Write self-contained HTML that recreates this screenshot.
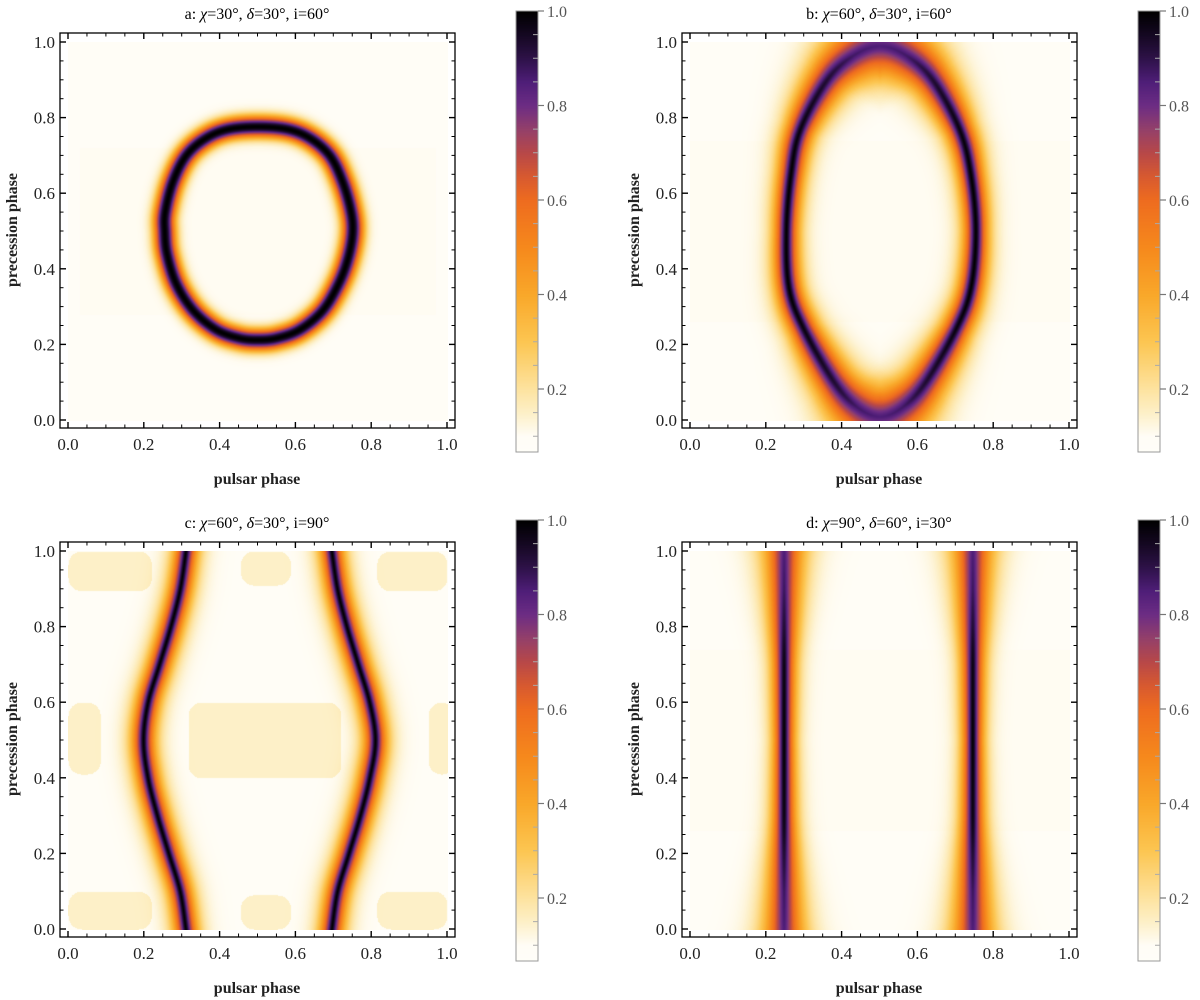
<!DOCTYPE html>
<html><head><meta charset="utf-8">
<style>
html,body{margin:0;padding:0;background:#fff;}
#root{position:relative;width:1200px;height:1000px;overflow:hidden;background:#fff;}
canvas{position:absolute;}
svg{position:absolute;left:0;top:0;}
text{font-family:"Liberation Serif",serif;}
</style></head>
<body>
<div id="root">
<canvas id="ca" width="380" height="379" style="left:68px;top:42px"></canvas>
<canvas id="cb" width="380" height="379" style="left:690px;top:42px"></canvas>
<canvas id="cc" width="380" height="379" style="left:68px;top:551px"></canvas>
<canvas id="cd" width="380" height="379" style="left:690px;top:551px"></canvas>
<canvas id="k1" width="22" height="441" style="left:516px;top:11px"></canvas>
<canvas id="k2" width="22" height="441" style="left:1138px;top:11px"></canvas>
<canvas id="k3" width="22" height="441" style="left:516px;top:520px"></canvas>
<canvas id="k4" width="22" height="441" style="left:1138px;top:520px"></canvas>
<svg id="ov" width="1200" height="1000">
<text x="257" y="19" text-anchor="middle" font-size="16">a: <tspan font-style="italic">χ</tspan>=30°, <tspan font-style="italic">δ</tspan>=30°, i=60°</text>
<text x="879" y="19" text-anchor="middle" font-size="16">b: <tspan font-style="italic">χ</tspan>=60°, <tspan font-style="italic">δ</tspan>=30°, i=60°</text>
<text x="257" y="528" text-anchor="middle" font-size="16">c: <tspan font-style="italic">χ</tspan>=60°, <tspan font-style="italic">δ</tspan>=30°, i=90°</text>
<text x="879" y="528" text-anchor="middle" font-size="16">d: <tspan font-style="italic">χ</tspan>=90°, <tspan font-style="italic">δ</tspan>=60°, i=30°</text>
</svg>
</div>
<script>
// ---- data ----
const xTicks=[0,0.2,0.4,0.6,0.8,1.0];
const xTickLabels=["0.0","0.2","0.4","0.6","0.8","1.0"];
const cbTicks=[0.2,0.4,0.6,0.8,1.0];
const cbTickLabels=["0.2","0.4","0.6","0.8","1.0"];
const cmapVals=[0.0,0.1,0.15,0.2,0.3,0.4,0.5,0.6,0.65,0.7,0.75,0.8,0.85,0.9,0.95,1.0];
const cmapCols=["#ffffff","#fffdf6","#fdf0c8","#fde3a0","#fcc652","#f9a82a","#f6891c","#ee6c1f","#d85a30","#b84848","#94406a","#6d2d84","#4f1e78","#2e1248","#150822","#000000"];
// panel a ring
const ringAx=[0.5,0.42,0.36,0.31,0.275,0.255,0.254,0.26,0.285,0.33,0.39,0.45,0.5,0.55,0.61,0.67,0.712,0.738,0.75,0.744,0.722,0.69,0.64,0.58,0.5];
const ringAy=[0.777,0.77,0.745,0.70,0.63,0.55,0.5,0.44,0.36,0.29,0.24,0.218,0.213,0.218,0.24,0.29,0.36,0.43,0.5,0.56,0.635,0.70,0.745,0.77,0.777];
const ringAamp=ringAx.map(()=>1);
const ringAw=ringAx.map(()=>0.028);
// panel b ellipse
const ellBx=[0.5,0.57,0.64,0.71,0.74,0.753,0.74,0.70,0.62,0.56,0.5,0.44,0.38,0.30,0.26,0.253,0.265,0.29,0.36,0.43,0.5];
const ellBy=[0.99,0.965,0.9,0.77,0.65,0.5,0.35,0.24,0.10,0.035,0.01,0.035,0.10,0.24,0.35,0.5,0.65,0.77,0.9,0.965,0.99];
const ellBamp=[0.85,0.87,0.93,0.98,1,1,1,0.98,0.93,0.87,0.85,0.87,0.93,0.98,1,1,1,0.98,0.93,0.87,0.85];
const ellBw=[0.085,0.07,0.05,0.036,0.032,0.03,0.032,0.036,0.05,0.07,0.085,0.07,0.05,0.036,0.032,0.03,0.032,0.036,0.05,0.07,0.085];
// panel c wavy lines
const waveCy=[0,0.1,0.2,0.3,0.4,0.5,0.6,0.7,0.8,0.9,1.0];
const waveCleft=[0.31,0.295,0.265,0.235,0.21,0.198,0.21,0.24,0.27,0.295,0.31];
const waveCright=[0.695,0.71,0.74,0.77,0.795,0.81,0.795,0.765,0.735,0.71,0.695];
const waveCamp=waveCy.map(()=>1);
const waveCw=waveCy.map(()=>0.028);
// panel c pale patches [x0,x1,y0,y1]
const patchC=[[0,0.22,0,0.1],[0,0.22,0.895,1],[0.455,0.587,0,0.09],[0.455,0.587,0.91,1],[0.815,1,0,0.1],[0.815,1,0.895,1],[0.317,0.72,0.4,0.6],[0,0.085,0.41,0.6],[0.95,1,0.41,0.6]];
// panel d vertical beams
const beamDy=[0,0.1,0.2,0.3,0.5,0.7,0.8,0.9,1.0];
const beamDleft=[0.247,0.247,0.247,0.247,0.247,0.247,0.247,0.247,0.247];
const beamDright=[0.745,0.745,0.745,0.745,0.745,0.745,0.745,0.745,0.745];
const beamDamp=[0.85,0.88,0.93,0.98,1,0.98,0.93,0.88,0.85];
const beamDw=[0.05,0.042,0.035,0.029,0.026,0.029,0.035,0.042,0.05];

// ---- helpers ----
function hex(c){return [parseInt(c.slice(1,3),16),parseInt(c.slice(3,5),16),parseInt(c.slice(5,7),16)];}
const cmapRGB=cmapCols.map(hex);
function cmap(v){
  if(v<=cmapVals[0])return cmapRGB[0];
  for(let i=1;i<cmapVals.length;i++){
    if(v<=cmapVals[i]){const t=(v-cmapVals[i-1])/(cmapVals[i]-cmapVals[i-1]);const a=cmapRGB[i-1],b=cmapRGB[i];
      return [a[0]+(b[0]-a[0])*t,a[1]+(b[1]-a[1])*t,a[2]+(b[2]-a[2])*t];}
  }
  return cmapRGB[cmapRGB.length-1];
}
function curve(xs,ys,amp,w,p){
  const n=xs.length,closed=(xs[0]===xs[n-1]&&ys[0]===ys[n-1]);
  const get=(arr,i)=>{
    if(closed){const m=n-1;return arr[((i%m)+m)%m];}
    return arr[Math.max(0,Math.min(n-1,i))];
  };
  const cr=(a,b,c,d,t)=>0.5*((2*b)+(-a+c)*t+(2*a-5*b+4*c-d)*t*t+(-a+3*b-3*c+d)*t*t*t);
  const X=[],Y=[],A=[],W=[];const S=8;
  for(let i=0;i<n-1;i++){
    for(let s=0;s<S;s++){const t=s/S;
      X.push(cr(get(xs,i-1),get(xs,i),get(xs,i+1),get(xs,i+2),t));
      Y.push(cr(get(ys,i-1),get(ys,i),get(ys,i+1),get(ys,i+2),t));
      A.push(amp[i]+(amp[i+1]-amp[i])*t);W.push(w[i]+(w[i+1]-w[i])*t);}
  }
  X.push(xs[n-1]);Y.push(ys[n-1]);A.push(amp[n-1]);W.push(w[n-1]);
  return {xs:X,ys:Y,amp:A,w:W,p};
}
function curveVal(c,x,y,bg){
  let best=1e9,ba=0,bw=1;
  for(let i=0;i<c.xs.length-1;i++){
    const ax=c.xs[i],ay=c.ys[i],bx=c.xs[i+1],by=c.ys[i+1];
    const dx=bx-ax,dy=by-ay;const L=dx*dx+dy*dy;
    let t=L>0?((x-ax)*dx+(y-ay)*dy)/L:0;t=Math.max(0,Math.min(1,t));
    const px=ax+t*dx-x,py=ay+t*dy-y;const d=px*px+py*py;
    if(d<best){best=d;ba=c.amp[i]+(c.amp[i+1]-c.amp[i])*t;bw=c.w[i]+(c.w[i+1]-c.w[i])*t;}
  }
  const d=Math.sqrt(best);
  return bg+(ba-bg)*Math.exp(-Math.pow(d/bw,c.p));
}
function inRound(r,x,y,rad){
  if(x<r[0]||x>r[1]||y<r[2]||y>r[3])return false;
  const cx=Math.max(r[0]+rad,Math.min(r[1]-rad,x)),cy=Math.max(r[2]+rad,Math.min(r[3]-rad,y));
  const dx=x-cx,dy=y-cy;return dx*dx+dy*dy<=rad*rad;
}
function drawHeat(id,curves,patches,band){
  const cv=document.getElementById(id),ctx=cv.getContext('2d');
  const W=cv.width,H=cv.height,img=ctx.createImageData(W,H);
  for(let j=0;j<H;j++){
    const y=1-j/378;
    for(let i=0;i<W;i++){
      const x=i/379;
      let bg=0.1;
      if(band&&x>=band[0]&&x<=band[1]&&y>=band[2]&&y<=band[3])bg=0.104;
      for(const r of patches){if(inRound(r,x,y,0.035)){bg=0.15;break;}}
      let v=bg;
      for(const c of curves){v=Math.max(v,curveVal(c,x,y,bg));}
      const col=cmap(v),k=(j*W+i)*4;
      img.data[k]=col[0];img.data[k+1]=col[1];img.data[k+2]=col[2];img.data[k+3]=255;
    }
  }
  ctx.putImageData(img,0,0);
}
drawHeat('ca',[curve(ringAx,ringAy,ringAamp,ringAw,2)],[],[0.03,0.97,0.28,0.72]);
drawHeat('cb',[curve(ellBx,ellBy,ellBamp,ellBw,1.4)],[],[0.0,1.0,0.26,0.74]);
drawHeat('cc',[curve(waveCleft,waveCy,waveCamp,waveCw,1.3),curve(waveCright,waveCy,waveCamp,waveCw,1.3)],patchC,null);
drawHeat('cd',[curve(beamDleft,beamDy,beamDamp,beamDw,1.4),curve(beamDright,beamDy,beamDamp,beamDw,1.4)],[],[0.0,1.0,0.26,0.74]);

['k1','k2','k3','k4'].forEach(id=>{
  const cv=document.getElementById(id),ctx=cv.getContext('2d');
  for(let j=0;j<cv.height;j++){const v=1-j/472.5;const c=cmap(v);
    ctx.fillStyle='rgb('+Math.round(c[0])+','+Math.round(c[1])+','+Math.round(c[2])+')';ctx.fillRect(0,j,cv.width,1);}
});

// ---- axes ----
const NS='http://www.w3.org/2000/svg';
const ov=document.getElementById('ov');
function mk(tag,attrs,txt){const e=document.createElementNS(NS,tag);for(const k in attrs)e.setAttribute(k,attrs[k]);if(txt!==undefined)e.textContent=txt;ov.appendChild(e);return e;}
const offsets=[[0,0,'a'],[622,0,'b'],[0,509,'c'],[622,509,'d']];
offsets.forEach(([ox,oy,n])=>{
  const L=60+ox,R=455+ox,T=33+oy,B=428+oy;
  const X=v=>68+ox+v*379, Y=v=>420+oy-v*378;
  const fr=mk('rect',{x:L,y:T,width:R-L,height:B-T,fill:'none',stroke:'#000','stroke-width':1.3});
  
  
  for(let k=0;k<=20;k++){
    const v=k*0.05,maj=(k%4===0),len=maj?6:3.5;
    const xx=X(v),yy=Y(v);
    const segs=[[xx,B,xx,B-len],[xx,T,xx,T+len],[L,yy,L+len,yy],[R,yy,R-len,yy]];
    segs.forEach(s=>{const l=mk('line',{x1:s[0],y1:s[1],x2:s[2],y2:s[3],stroke:'#000','stroke-width':maj?1.4:1});
      
      });
  }
  xTicks.forEach((v,i)=>{
    const t=mk('text',{x:X(v),y:B+22,'text-anchor':'middle','font-size':17,fill:'#222'},xTickLabels[i]);
    
    
    const u=mk('text',{x:L-5,y:Y(v)+6,'text-anchor':'end','font-size':17,fill:'#222'},xTickLabels[i]);
    
    
  });
  const xl=mk('text',{x:257+ox,y:484+oy,'text-anchor':'middle','font-size':16,'font-weight':'bold',fill:'#222'},'pulsar phase');
  
  
  const yl=mk('text',{x:0,y:0,'text-anchor':'middle','font-size':16,'font-weight':'bold',fill:'#222',transform:'translate('+(17+ox)+','+(230+oy)+') rotate(-90)'},'precession phase');
  
  
  const cl=516+ox,cr=538+ox,ct=11+oy,cbB=452+oy;
  const cf=mk('rect',{x:cl,y:ct,width:cr-cl,height:cbB-ct,fill:'none',stroke:'#999','stroke-width':1});
  
  
  const CY=v=>11+oy+(1-v)*472.5;
  for(let k=2;k<=20;k++){
    const v=k*0.05,yy=CY(v);if(yy>cbB)continue;
    const maj=(k%4===0);
    const l=maj?mk('line',{x1:cr,y1:yy,x2:cr+6,y2:yy,stroke:'#777','stroke-width':1.2}):mk('line',{x1:cr,y1:yy,x2:cr-5,y2:yy,stroke:'#aaa','stroke-width':1});
    
    
  }
  cbTicks.forEach((v,i)=>{
    const t=mk('text',{x:cr+9,y:CY(v)+6,'font-size':16,fill:'#555'},cbTickLabels[i]);
    
    
  });
});
</script>
</body></html>
